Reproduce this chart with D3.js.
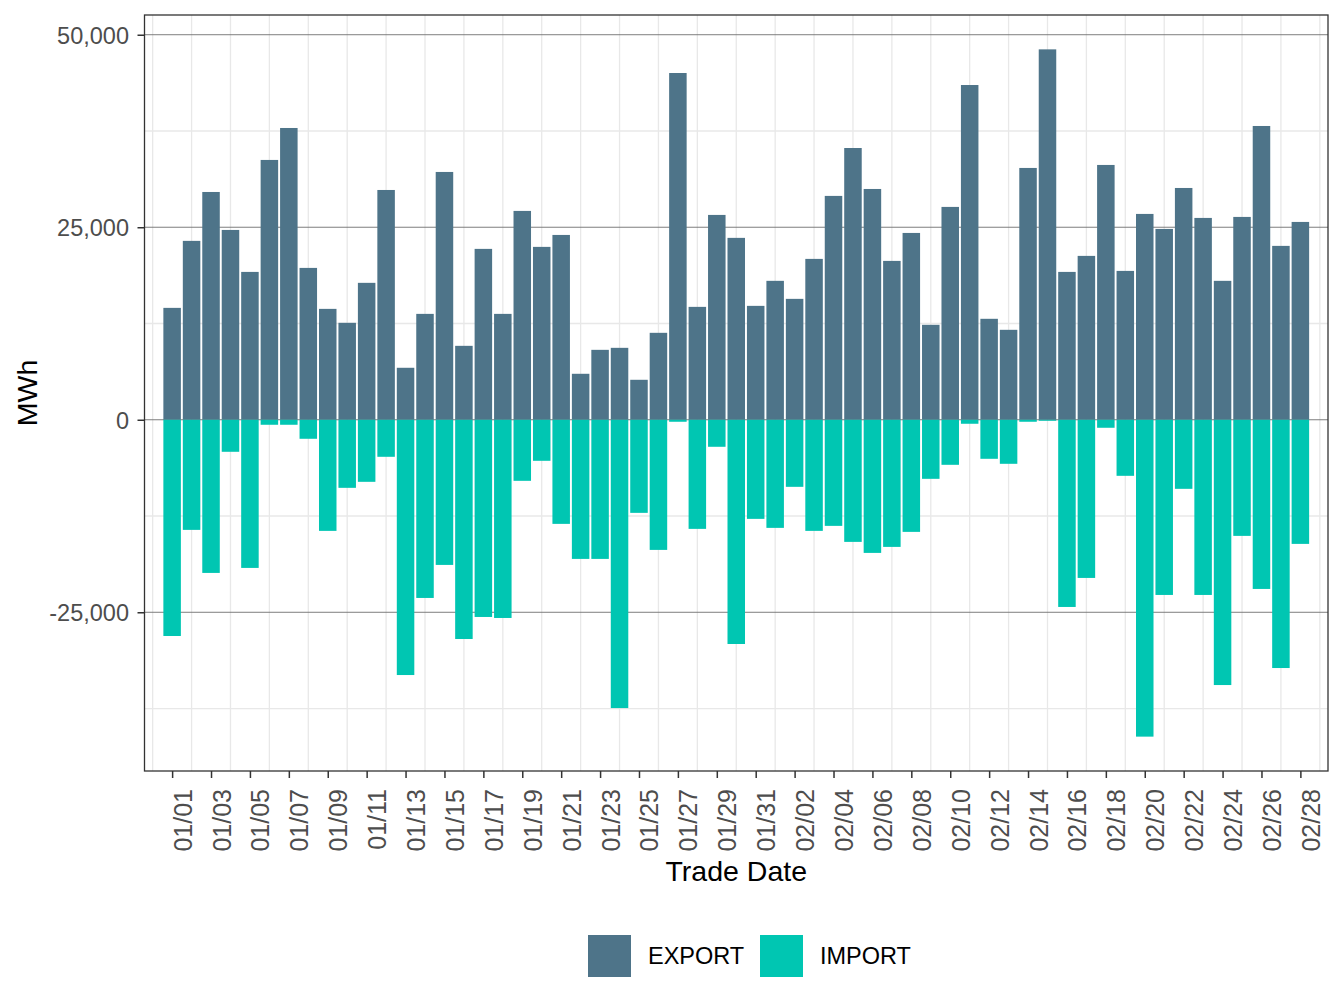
<!DOCTYPE html>
<html><head><meta charset="utf-8">
<script src="https://cdn.jsdelivr.net/npm/d3@7"></script>
<style>body{margin:0;background:#fff}svg{display:block;font-family:"Liberation Sans",Arial,Helvetica,sans-serif}</style>
</head><body><svg id="chart" width="1344" height="1008"></svg>
<script>
const tradeDates = ["2023-01-01","2023-01-02","2023-01-03","2023-01-04","2023-01-05","2023-01-06","2023-01-07","2023-01-08","2023-01-09","2023-01-10",
"2023-01-11","2023-01-12","2023-01-13","2023-01-14","2023-01-15","2023-01-16","2023-01-17","2023-01-18","2023-01-19","2023-01-20",
"2023-01-21","2023-01-22","2023-01-23","2023-01-24","2023-01-25","2023-01-26","2023-01-27","2023-01-28","2023-01-29","2023-01-30",
"2023-01-31","2023-02-01","2023-02-02","2023-02-03","2023-02-04","2023-02-05","2023-02-06","2023-02-07","2023-02-08","2023-02-09",
"2023-02-10","2023-02-11","2023-02-12","2023-02-13","2023-02-14","2023-02-15","2023-02-16","2023-02-17","2023-02-18","2023-02-19",
"2023-02-20","2023-02-21","2023-02-22","2023-02-23","2023-02-24","2023-02-25","2023-02-26","2023-02-27","2023-02-28"];
const exportMWh = [14530,23230,29580,24650,19200,33740,37890,19720,14400,12590,
17780,29840,6750,13750,32180,9600,22190,13750,27120,22450,
24000,5970,9080,9340,5190,11290,45030,14660,26600,23620,
14790,18040,15700,20890,29070,35290,29970,20630,24260,12330,
27640,43470,13110,11680,32700,48100,19200,21280,33090,19330,
26730,24780,30100,26210,18040,26340,38150,22580,25690];
const importMWh = [-28080,-14300,-19890,-4160,-19240,-650,-650,-2470,-14430,-8840,
-8060,-4810,-33150,-23140,-18850,-28470,-25610,-25740,-7930,-5330,
-13520,-18070,-18070,-37440,-12090,-16900,-260,-14170,-3510,-29120,
-12870,-14040,-8710,-14430,-13780,-15860,-17290,-16510,-14560,-7670,
-5850,-520,-5070,-5720,-260,-130,-24310,-20540,-1040,-7280,
-41150,-22750,-8970,-22750,-34450,-15080,-21970,-32240,-16120];
const yTicks = [-25000, 0, 25000, 50000];
const yMinorTicks = [-37500, -12500, 12500, 37500];
const seriesNames = ["EXPORT", "IMPORT"];
const seriesColors = ["#4E7489", "#00C6B2"];

const svg = d3.select("#chart");
const panel = {left: 144.5, right: 1328, top: 15, bottom: 771};
const DAY = 864e5;
const dates = tradeDates.map(d3.utcParse("%Y-%m-%d"));
const padDays = 1.42;
const x = d3.scaleUtc()
  .domain([new Date(+dates[0] - padDays * DAY), new Date(+dates[dates.length - 1] + padDays * DAY)])
  .range([panel.left, panel.right]);
const yMax = d3.max(exportMWh), yMin = d3.min(importMWh);
const ex = 0.05 * (yMax - yMin);
const y = d3.scaleLinear().domain([yMin - ex, yMax + ex]).range([panel.bottom, panel.top]);

const majorDates = dates.filter((d, i) => i % 2 === 0);
const minorDates = d3.utcDay.range(d3.utcDay.offset(dates[0], -1), d3.utcDay.offset(dates[dates.length - 1], 2), 2);
const fmtDate = d3.utcFormat("%m/%d");
const fmtNum = d3.formatLocale({decimal: ".", thousands: ",", grouping: [3], currency: ["$", ""], minus: "-"}).format(",");

// panel background grid
const grid = svg.append("g");
grid.selectAll(".vminor").data(minorDates).join("line")
  .attr("x1", d => x(d)).attr("x2", d => x(d))
  .attr("y1", panel.top).attr("y2", panel.bottom)
  .attr("stroke", "#e8e8e8").attr("stroke-width", 1.3);
grid.selectAll(".hminor").data(yMinorTicks).join("line")
  .attr("x1", panel.left).attr("x2", panel.right)
  .attr("y1", d => y(d)).attr("y2", d => y(d))
  .attr("stroke", "#e8e8e8").attr("stroke-width", 1.3);
grid.selectAll(".hmajor").data(yTicks).join("line")
  .attr("x1", panel.left).attr("x2", panel.right)
  .attr("y1", d => y(d)).attr("y2", d => y(d))
  .attr("stroke", "#6e6e6e").attr("stroke-width", 0.9);

// bars
const halfW = 0.45 * DAY;
const bars = svg.append("g");
[exportMWh, importMWh].forEach((vals, s) => {
  bars.append("g").selectAll("rect").data(vals.map((v, i) => ({d: dates[i], v})))
    .join("rect")
    .attr("x", p => x(new Date(+p.d - halfW)))
    .attr("width", p => x(new Date(+p.d + halfW)) - x(new Date(+p.d - halfW)))
    .attr("y", p => y(Math.max(0, p.v)))
    .attr("height", p => Math.abs(y(p.v) - y(0)))
    .attr("fill", seriesColors[s]);
});

// border
svg.append("rect")
  .attr("x", panel.left).attr("y", panel.top)
  .attr("width", panel.right - panel.left).attr("height", panel.bottom - panel.top)
  .attr("fill", "none").attr("stroke", "#333333").attr("stroke-width", 1.3);

// y axis
const yAxis = svg.append("g").attr("transform", `translate(${panel.left},0)`)
  .call(d3.axisLeft(y).tickValues(yTicks).tickFormat(fmtNum).tickSize(7).tickPadding(8.5));
yAxis.select(".domain").remove();
yAxis.selectAll(".tick line").attr("stroke", "#333333").attr("stroke-width", 1.5);
yAxis.selectAll(".tick text").attr("fill", "#4d4d4d").attr("font-size", "23.5px")
  .attr("font-family", "'Liberation Sans',Arial,sans-serif").attr("dy", "0.36em");

// x axis
const xAxis = svg.append("g").attr("transform", `translate(0,${panel.bottom})`)
  .call(d3.axisBottom(x).tickValues(majorDates).tickFormat(fmtDate).tickSize(7));
xAxis.select(".domain").remove();
xAxis.selectAll(".tick line").attr("stroke", "#333333").attr("stroke-width", 1.5);
xAxis.selectAll(".tick text").attr("fill", "#4d4d4d").attr("font-size", "25px")
  .attr("font-family", "'Liberation Sans',Arial,sans-serif")
  .attr("x", null).attr("y", null).attr("dy", null)
  .attr("text-anchor", "end")
  .attr("transform", "translate(19,18) rotate(-90)");

// titles
svg.append("text").attr("x", (panel.left + panel.right) / 2).attr("y", 881)
  .attr("text-anchor", "middle").attr("font-size", "28.5px").attr("fill", "#000").text("Trade Date");
svg.append("text").attr("transform", `translate(36.5,${(panel.top + panel.bottom) / 2}) rotate(-90)`)
  .attr("text-anchor", "middle").attr("font-size", "28.5px").attr("fill", "#000").text("MWh");

// legend
const legendX = [588, 760];
const legend = svg.append("g");
seriesNames.forEach((name, i) => {
  legend.append("rect").attr("x", legendX[i]).attr("y", 935).attr("width", 43).attr("height", 42)
    .attr("fill", seriesColors[i]);
  legend.append("text").attr("x", legendX[i] + 60).attr("y", 964)
    .attr("font-size", "23.5px").attr("fill", "#000").text(name);
});
</script></body></html>
